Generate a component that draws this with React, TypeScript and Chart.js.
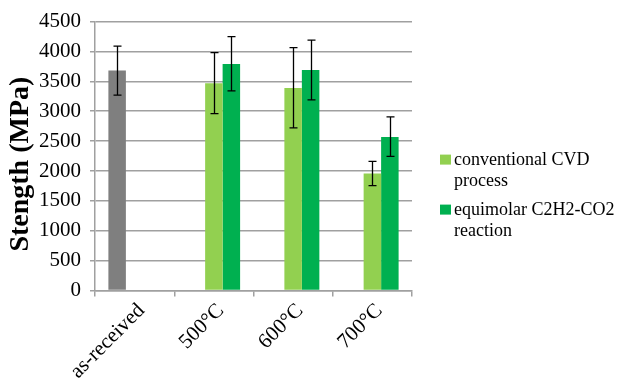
import React, { useEffect, useRef } from "react";
import { Chart, registerables } from "chart.js";

Chart.register(...registerables);

const categories = ["as-received", "500°C", "600°C", "700°C"];
const seriesNames = ["as-received", "conventional CVD process", "equimolar C2H2-CO2 reaction"];
const legendLines = [["conventional CVD", "process"], ["equimolar C2H2-CO2", "reaction"]];
const yTitle = "Stength (MPa)";
const asReceived = [3680, null, null, null];
const conventional = [null, 3470, 3390, 1960];
const equimolar = [null, 3790, 3690, 2570];
const asReceivedHigh = [4090, null, null, null];
const asReceivedLow = [3270, null, null, null];
const conventionalHigh = [null, 3980, 4065, 2160];
const conventionalLow = [null, 2960, 2720, 1755];
const equimolarHigh = [null, 4250, 4190, 2905];
const equimolarLow = [null, 3340, 3190, 2245];
const yTicks = [0, 500, 1000, 1500, 2000, 2500, 3000, 3500, 4000, 4500];
const colors = ["#7F7F7F", "#92D050", "#00B050"];

const errHigh = [asReceivedHigh, conventionalHigh, equimolarHigh];
const errLow = [asReceivedLow, conventionalLow, equimolarLow];

const SERIF = "'Liberation Serif', 'Times New Roman', serif";
Chart.defaults.font.family = SERIF;

const errorBarPlugin = {
  id: "errorBars",
  afterDatasetsDraw(chart: any) {
    const ctx = chart.ctx;
    const y = chart.scales.y;
    ctx.save();
    ctx.strokeStyle = "#000";
    ctx.lineWidth = 1.3;
    chart.data.datasets.forEach((ds: any, di: number) => {
      const meta = chart.getDatasetMeta(di);
      meta.data.forEach((bar: any, i: number) => {
        const hi = errHigh[di][i];
        const lo = errLow[di][i];
        if (hi == null || lo == null) return;
        const x = Math.round(bar.x) + 0.5;
        const yh = y.getPixelForValue(hi);
        const yl = y.getPixelForValue(lo);
        const cap = 4;
        ctx.beginPath();
        ctx.moveTo(x, yh);
        ctx.lineTo(x, yl);
        ctx.moveTo(x - cap, yh);
        ctx.lineTo(x + cap, yh);
        ctx.moveTo(x - cap, yl);
        ctx.lineTo(x + cap, yl);
        ctx.stroke();
      });
    });
    ctx.restore();
  },
};

const legendPlugin = {
  id: "sideLegend",
  afterDraw(chart: any) {
    const ctx = chart.ctx;
    const area = chart.chartArea;
    const x0 = area.right + 28;
    const starts = [area.top + 133, area.top + 183];
    ctx.save();
    ctx.font = "18px " + SERIF;
    ctx.textBaseline = "alphabetic";
    legendLines.forEach((lines, k) => {
      const top = starts[k];
      ctx.fillStyle = colors[k + 1];
      ctx.fillRect(x0, top, 11, 10);
      ctx.fillStyle = "#000";
      lines.forEach((t, j) => {
        ctx.fillText(t, x0 + 14, top + 10 + j * 21);
      });
    });
    // y axis title
    ctx.font = "bold 28px " + SERIF;
    ctx.textAlign = "center";
    ctx.textBaseline = "middle";
    ctx.translate(21, area.top + (area.bottom - area.top) * 0.53);
    ctx.rotate(-Math.PI / 2);
    ctx.fillText(yTitle, 0, 0);
    ctx.restore();
  },
};

export default function App() {
  const ref = useRef<HTMLCanvasElement | null>(null);
  useEffect(() => {
    if (!ref.current) return;
    const seriesData = [asReceived, conventional, equimolar];
    const chart = new Chart(ref.current, {
      type: "bar",
      data: {
        labels: categories,
        datasets: seriesData.map((d, i) => ({
          label: seriesNames[i],
          data: d,
          backgroundColor: colors[i],
          borderWidth: 0,
          barPercentage: 1,
          categoryPercentage: 0.662,
        })),
      },
      options: {
        animation: false,
        responsive: true,
        maintainAspectRatio: false,
        layout: { padding: { left: 0, top: 21, right: 205, bottom: 0 } },
        plugins: { legend: { display: false }, tooltip: { enabled: false } },
        scales: {
          x: {
            grid: {
              display: true,
              drawOnChartArea: false,
              drawTicks: true,
              tickLength: 6,
              color: "#A0A0A0",
              lineWidth: 1.5,
            },
            border: { color: "#A0A0A0", width: 1.5 },
            ticks: {
              minRotation: 45,
              maxRotation: 45,
              color: "#000",
              padding: 2,
              labelOffset: 7,
              font: { family: SERIF, size: 21 },
            },
            afterFit(scale: any) {
              scale.height = 91.5;
            },
          },
          y: {
            min: 0,
            max: 4500,
            afterBuildTicks(scale: any) {
              scale.ticks = yTicks.map((v) => ({ value: v }));
            },
            grid: {
              color: "#A0A0A0",
              lineWidth: 1.5,
              drawTicks: true,
              tickLength: 5,
            },
            border: { color: "#A0A0A0", width: 1.5 },
            ticks: {
              color: "#000",
              padding: 9,
              font: { family: SERIF, size: 21 },
              callback: (v: any) => String(v),
            },
            afterFit(scale: any) {
              scale.width = 95;
            },
          },
        },
      },
      plugins: [errorBarPlugin, legendPlugin],
    });
    return () => chart.destroy();
  }, []);
  return (
    <div style={{ position: "fixed", left: 0, top: 0, width: 617, height: 382, background: "#fff" }}>
      <canvas ref={ref} />
    </div>
  );
}
